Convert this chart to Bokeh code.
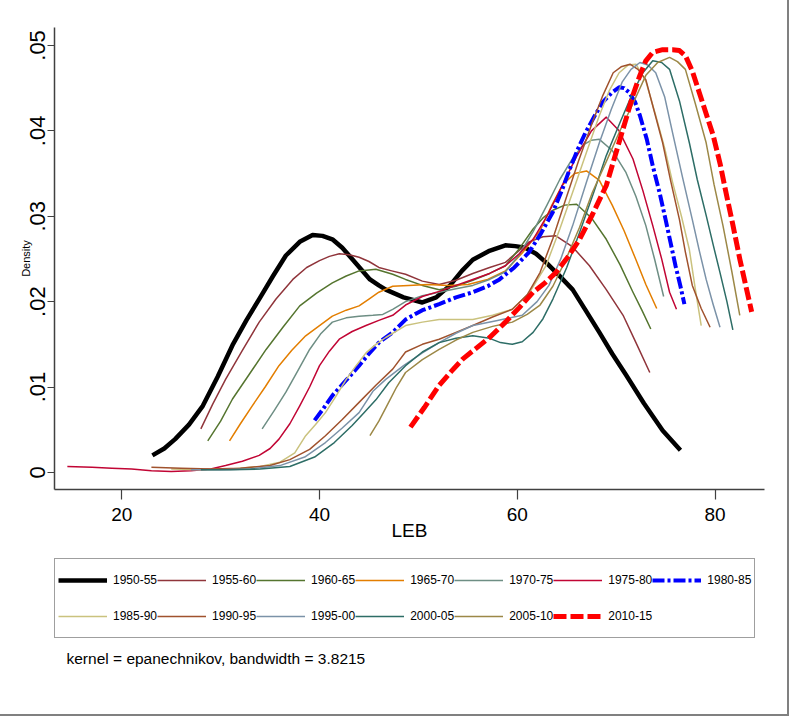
from bokeh.plotting import figure
from bokeh.layouts import column
from bokeh.models import Range1d, FixedTicker, Legend, LegendItem, Label, CustomJSTickFormatter
from bokeh.embed import file_html
from bokeh.resources import INLINE

# ---------------- data ----------------
labels = ["1950-55", "1955-60", "1960-65", "1965-70", "1970-75", "1975-80", "1980-85",
          "1985-90", "1990-95", "1995-00", "2000-05", "2005-10", "2010-15"]

x_1950 = [23.1, 24.3, 25.4, 26.8, 28.2, 29.7, 31.2, 32.6, 33.9, 35.3, 36.6, 38.0, 39.3, 40.3, 41.3, 42.3,
          43.3, 44.2, 45.1, 46.0, 46.7, 48.5, 50.4, 51.8, 53.2, 54.4, 55.5, 57.1, 58.8, 59.8, 60.8, 61.9,
          62.9, 64.2, 65.6, 66.9, 68.3, 69.6, 71.0, 72.8, 74.7, 76.5]
y_1950 = [.0020, .0028, .0039, .0056, .0078, .0112, .0149, .0178, .0203, .0230, .0254, .0270, .0278, .0277,
          .0273, .0263, .0250, .0238, .0226, .0219, .0214, .0205, .0199, .0205, .0219, .0236, .0249, .0259,
          .0266, .0265, .0263, .0256, .0246, .0231, .0214, .0190, .0164, .0139, .0114, .0081, .0049, .0026]

x_1955 = [28.0, 29.2, 30.5, 32.2, 33.9, 35.6, 37.3, 38.7, 40.0, 41.0, 42.0, 43.0, 44.0, 45.0, 46.0, 47.3,
          48.7, 50.4, 52.1, 53.8, 55.5, 57.2, 58.8, 60.0, 61.2, 62.6, 63.9, 65.6, 67.3, 69.0, 70.7, 72.0, 73.4]
y_1955 = [.0051, .0080, .0109, .0143, .0176, .0203, .0226, .0240, .0248, .0253, .0256, .0255, .0252, .0247,
          .0240, .0236, .0232, .0224, .0220, .0225, .0233, .0240, .0246, .0258, .0270, .0276, .0277, .0264,
          .0242, .0214, .0184, .0152, .0117]

x_1960 = [28.7, 30.0, 31.2, 32.9, 34.6, 36.3, 38.0, 39.7, 41.3, 42.7, 44.0, 45.7, 47.4, 48.7, 50.4, 52.1,
          53.8, 55.5, 57.2, 58.8, 60.2, 61.6, 62.6, 63.6, 64.8, 66.0, 67.5, 69.0, 70.4, 71.7, 72.6, 73.5]
y_1960 = [.0037, .0060, .0086, .0115, .0144, .0170, .0195, .0210, .0222, .0230, .0236, .0238, .0232, .0226,
          .0219, .0214, .0218, .0225, .0233, .0242, .0262, .0285, .0298, .0307, .0313, .0314, .0298, .0273,
          .0243, .0211, .0190, .0168]

x_1965 = [30.9, 32.0, 33.2, 34.5, 35.9, 37.2, 38.6, 40.0, 41.3, 42.7, 44.0, 45.0, 46.0, 47.4, 49.0, 51.0,
          53.0, 55.0, 57.0, 58.8, 60.5, 62.3, 63.5, 64.6, 65.8, 67.0, 68.3, 69.6, 70.8, 72.0, 73.0, 74.1]
y_1965 = [.0037, .0057, .0078, .0100, .0125, .0143, .0160, .0172, .0183, .0190, .0195, .0203, .0211, .0218,
          .0219, .0220, .0219, .0220, .0226, .0236, .0257, .0283, .0313, .0337, .0350, .0353, .0342, .0313,
          .0283, .0249, .0220, .0192]

x_1970 = [34.2, 35.4, 36.6, 37.8, 39.0, 40.1, 41.3, 42.7, 44.0, 45.4, 46.4, 47.4, 48.7, 50.4, 52.1, 53.8,
          55.5, 57.2, 58.8, 60.2, 61.6, 63.0, 64.3, 65.5, 66.6, 67.5, 68.3, 69.6, 71.0, 72.0, 73.0, 73.9, 74.8]
y_1970 = [.0051, .0072, .0094, .0119, .0144, .0162, .0176, .0181, .0183, .0184, .0185, .0191, .0200, .0207,
          .0211, .0215, .0219, .0226, .0235, .0255, .0282, .0313, .0343, .0366, .0383, .0389, .0390, .0377,
          .0351, .0323, .0289, .0249, .0206]

x_1975 = [14.5, 17.0, 19.0, 21.0, 23.0, 25.0, 27.0, 29.0, 30.5, 32.2, 33.9, 35.0, 35.9, 37.0, 38.0, 39.0,
          40.0, 41.0, 42.0, 43.3, 44.7, 46.0, 47.4, 48.7, 50.4, 52.1, 53.8, 55.5, 57.2, 58.8, 60.2, 61.6,
          63.0, 64.5, 66.0, 67.5, 69.0, 70.3, 71.7, 72.7, 73.7, 74.6, 75.4, 76.1]
y_1975 = [.0007, .0006, .0005, .0004, .0002, .0001, .0002, .0004, .0008, .0013, .0020, .0028, .0039, .0057,
          .0078, .0100, .0125, .0142, .0156, .0165, .0172, .0178, .0184, .0196, .0206, .0212, .0219, .0226,
          .0233, .0242, .0256, .0273, .0300, .0335, .0370, .0400, .0416, .0400, .0367, .0330, .0289, .0250,
          .0211, .0191]

x_1980 = [39.5, 40.4, 41.3, 42.7, 44.0, 45.0, 46.0, 47.4, 48.7, 50.4, 52.1, 53.8, 55.5, 57.0, 58.2, 59.7,
          61.2, 62.4, 63.6, 64.5, 65.3, 66.1, 66.9, 67.8, 68.6, 69.5, 70.3, 70.8, 71.3, 71.9, 72.4, 73.1,
          73.7, 74.4, 75.0, 75.5, 76.0, 76.5, 76.9]
y_1980 = [.0061, .0075, .0090, .0108, .0125, .0139, .0152, .0164, .0179, .0190, .0197, .0205, .0211, .0218,
          .0226, .0240, .0258, .0280, .0305, .0330, .0355, .0378, .0398, .0417, .0433, .0444, .0451, .0450,
          .0445, .0434, .0418, .0390, .0359, .0327, .0296, .0269, .0242, .0218, .0197]

x_1985 = [25.0, 28.0, 31.0, 34.0, 36.0, 37.5, 38.6, 39.6, 40.6, 41.7, 42.7, 43.7, 44.7, 45.7, 46.7, 48.7,
          50.4, 52.1, 53.8, 55.5, 57.5, 59.5, 61.2, 62.9, 64.3, 65.6, 67.0, 68.3, 69.3, 70.3, 71.2, 72.0,
          73.0, 74.0, 74.9, 75.7, 76.6, 77.4, 78.0, 78.6]
y_1985 = [.0004, .0003, .0004, .0007, .0012, .0023, .0043, .0056, .0070, .0090, .0109, .0125, .0140, .0150,
          .0158, .0172, .0176, .0179, .0179, .0179, .0184, .0191, .0210, .0242, .0285, .0328, .0375, .0418,
          .0447, .0468, .0477, .0478, .0458, .0418, .0380, .0340, .0300, .0261, .0215, .0172]

x_1990 = [23.0, 26.0, 29.0, 32.0, 35.0, 37.0, 39.0, 40.6, 42.3, 44.0, 45.7, 47.4, 48.7, 50.4, 52.1, 53.8,
          55.5, 57.5, 59.5, 61.0, 62.3, 63.6, 64.9, 66.2, 67.6, 68.6, 69.7, 70.5, 71.4, 72.2, 73.0, 73.8,
          74.7, 75.5, 76.4, 77.0, 77.7, 78.6, 79.5]
y_1990 = [.0006, .0005, .0004, .0005, .0008, .0015, .0027, .0043, .0062, .0082, .0102, .0121, .0141, .0150,
          .0156, .0164, .0172, .0182, .0191, .0208, .0234, .0274, .0320, .0365, .0410, .0440, .0468, .0475,
          .0478, .0472, .0460, .0425, .0386, .0342, .0296, .0258, .0219, .0192, .0170]

x_1995 = [27.0, 30.0, 33.0, 36.0, 38.5, 40.6, 42.3, 44.0, 45.4, 46.7, 48.5, 50.4, 52.1, 53.8, 55.5, 58.0,
          60.5, 62.0, 63.2, 64.4, 65.6, 67.0, 68.3, 69.5, 70.6, 71.5, 72.4, 73.2, 74.0, 74.9, 75.7, 76.7,
          77.7, 78.4, 79.1, 79.8, 80.5]
y_1995 = [.0003, .0003, .0004, .0008, .0018, .0035, .0052, .0070, .0095, .0109, .0125, .0140, .0152, .0163,
          .0172, .0178, .0184, .0200, .0219, .0250, .0289, .0340, .0386, .0425, .0457, .0472, .0480, .0477,
          .0468, .0440, .0398, .0346, .0296, .0260, .0226, .0197, .0170]

x_2000 = [28.0, 31.0, 34.0, 37.0, 39.5, 41.5, 43.3, 44.5, 45.7, 47.0, 48.7, 50.4, 52.1, 53.8, 55.5, 57.2,
          58.3, 59.5, 60.5, 61.6, 62.6, 63.6, 65.0, 66.3, 67.7, 69.0, 70.4, 71.7, 72.7, 73.7, 74.6, 75.4,
          76.4, 77.4, 78.2, 79.1, 79.8, 80.5, 81.2, 81.8]
y_2000 = [.0003, .0003, .0004, .0007, .0018, .0035, .0055, .0070, .0085, .0105, .0125, .0141, .0152, .0157,
          .0160, .0157, .0152, .0150, .0153, .0164, .0180, .0203, .0240, .0281, .0327, .0371, .0410, .0445,
          .0468, .0482, .0480, .0472, .0435, .0386, .0343, .0301, .0267, .0234, .0200, .0167]

x_2005 = [45.1, 46.0, 46.9, 47.8, 48.7, 50.4, 52.1, 53.8, 55.5, 57.5, 59.5, 61.0, 62.3, 63.6, 64.9, 66.3,
          67.6, 69.0, 70.3, 71.7, 73.0, 74.2, 75.4, 76.2, 77.0, 78.0, 79.1, 79.9, 80.8, 81.7, 82.5]
y_2005 = [.0043, .0060, .0080, .0100, .0117, .0132, .0144, .0155, .0164, .0171, .0176, .0185, .0196, .0218,
          .0249, .0287, .0328, .0364, .0398, .0432, .0465, .0480, .0486, .0481, .0472, .0432, .0386, .0337,
          .0289, .0235, .0184]

x_2010 = [49.2, 50.6, 52.1, 53.3, 54.5, 55.8, 57.2, 58.8, 60.2, 61.6, 62.8, 63.9, 65.1, 66.3, 67.6, 69.0,
          70.0, 71.0, 71.7, 72.4, 73.0, 73.7, 74.7, 75.7, 76.4, 77.0, 77.7, 78.4, 79.1, 79.8, 80.5, 81.1,
          81.8, 82.5, 83.1, 83.7]
y_2010 = [.0053, .0076, .0102, .0118, .0133, .0145, .0158, .0176, .0193, .0211, .0222, .0234, .0252, .0273,
          .0302, .0336, .0375, .0414, .0442, .0465, .0482, .0492, .0495, .0495, .0494, .0488, .0470, .0445,
          .0420, .0395, .0362, .0328, .0290, .0250, .0219, .0188]

x_ticks = [20, 40, 60, 80]
y_tick_values = [0, 0.01, 0.02, 0.03, 0.04, 0.05]
y_tick_labels = ["0", ".01", ".02", ".03", ".04", ".05"]
x_label = "LEB"
y_label = "Density"
note = "kernel = epanechnikov, bandwidth = 3.8215"

series_x = [x_1950, x_1955, x_1960, x_1965, x_1970, x_1975, x_1980,
            x_1985, x_1990, x_1995, x_2000, x_2005, x_2010]
series_y = [y_1950, y_1955, y_1960, y_1965, y_1970, y_1975, y_1980,
            y_1985, y_1990, y_1995, y_2000, y_2005, y_2010]

# ---------------- styles ----------------
colors = ["#000000", "#90353B", "#55752F", "#E37E00", "#6E8E84", "#C10534", "#0000FF",
          "#CAC27E", "#A0522D", "#7B92A8", "#2D6D66", "#9C8847", "#FF0000"]
widths = [4.5, 1.5, 1.5, 1.5, 1.5, 1.5, 4, 1.5, 1.5, 1.5, 1.5, 1.5, 5]
dashes = ["solid"] * 13
dashes[6] = "12 3 3 3"
dashes[12] = "13 4"

FONT = "Liberation Sans"
W = 784
H_MAIN = 550
H_LEG = 711 - H_MAIN
BL, BR = 54, 20

# ---------------- main plot ----------------
p = figure(width=W, height=H_MAIN, output_backend="svg", toolbar_location=None,
           x_range=Range1d(13.2, 85.0), y_range=Range1d(-0.0020, 0.0521),
           min_border_left=BL, min_border_right=BR, min_border_top=27, min_border_bottom=H_MAIN - 489,
           background_fill_color="white", border_fill_color="white")
p.grid.visible = False
p.outline_line_color = None

for xs, ys, c, w, d in zip(series_x, series_y, colors, widths, dashes):
    p.line(xs, ys, line_color=c, line_width=w, line_dash=d, line_join="round")

xa = p.xaxis[0]
xa.ticker = FixedTicker(ticks=x_ticks)
xa.axis_label = x_label
xa.axis_line_color = "#404040"
xa.axis_line_width = 1.5
xa.major_tick_line_color = "#404040"
xa.major_tick_line_width = 1.2
xa.major_tick_out = 10
xa.major_tick_in = 0
xa.minor_tick_out = 0
xa.minor_tick_in = 0
xa.major_label_text_font = FONT
xa.major_label_text_font_size = "19px"
xa.major_label_text_color = "black"
xa.major_label_standoff = 8
xa.axis_label_text_font = FONT
xa.axis_label_text_font_size = "19px"
xa.axis_label_text_font_style = "normal"
xa.axis_label_text_color = "black"
xa.axis_label_standoff = -4

ya = p.yaxis[0]
ya.ticker = FixedTicker(ticks=y_tick_values)
ya.formatter = CustomJSTickFormatter(args=dict(vals=y_tick_values, labs=y_tick_labels), code="""
    for (let i = 0; i < vals.length; i++) {
        if (Math.abs(vals[i] - tick) < 1e-9) { return labs[i]; }
    }
    return "";
""")
ya.major_label_orientation = "vertical"
ya.axis_label = y_label
ya.axis_line_color = "#404040"
ya.axis_line_width = 1.5
ya.major_tick_line_color = "#404040"
ya.major_tick_line_width = 1.2
ya.major_tick_out = 7
ya.major_tick_in = 0
ya.minor_tick_out = 0
ya.minor_tick_in = 0
ya.major_label_text_font = FONT
ya.major_label_text_font_size = "22px"
ya.major_label_text_color = "black"
ya.major_label_standoff = 2
ya.axis_label_text_font = FONT
ya.axis_label_text_font_size = "11px"
ya.axis_label_text_font_style = "normal"
ya.axis_label_text_color = "black"
ya.axis_label_standoff = -4

# ---------------- legend + note panel ----------------
p2 = figure(width=W, height=H_LEG, output_backend="svg", toolbar_location=None,
            x_range=Range1d(0, 1), y_range=Range1d(0, 1),
            min_border_left=BL, min_border_right=BR, min_border_top=0, min_border_bottom=0,
            x_axis_location=None, y_axis_location=None,
            background_fill_color="white", border_fill_color="white")
p2.grid.visible = False
p2.outline_line_color = None

leg_renderers = []
for xs, ys, c, w, d in zip(series_x, series_y, colors, widths, dashes):
    # same series; they fall outside this panel's ranges, only their legend samples show
    leg_renderers.append(p2.line(xs, ys, line_color=c, line_width=w, line_dash=d))

items = [LegendItem(label=lab, renderers=[r]) for lab, r in zip(labels, leg_renderers)]
legend = Legend(items=items, location=(0, 73), orientation="horizontal", ncols=7,
                glyph_width=49, glyph_height=36, label_height=36, label_standoff=6,
                spacing=-1, padding=3, margin=0,
                label_text_font=FONT, label_text_font_size="12px", label_text_color="black",
                border_line_color="#404040", border_line_width=1.5,
                background_fill_color="white", background_fill_alpha=1.0)
p2.add_layout(legend)

note_label = Label(x=12, y=53, x_units="screen", y_units="screen", text=note,
                   text_font=FONT, text_font_size="15.5px", text_color="black",
                   text_baseline="middle", text_align="left")
p2.add_layout(note_label)

layout = column(p, p2, spacing=0,
                styles={"outline": "2px solid #808080", "outline-offset": "3px"})

open("out.html", "w").write(file_html(layout, INLINE))
